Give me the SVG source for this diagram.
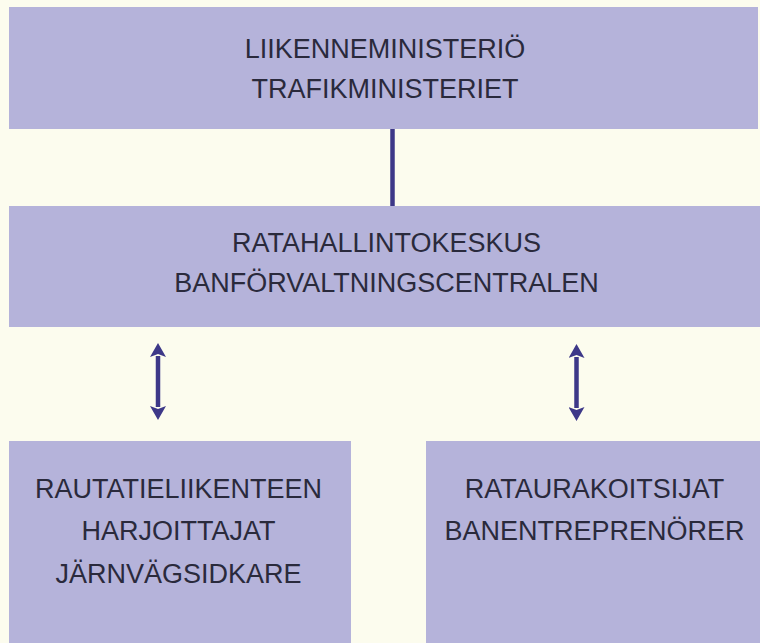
<svg xmlns="http://www.w3.org/2000/svg" width="760" height="643" viewBox="0 0 760 643">
  <style>
    .box { fill: #b5b3da; }
    .lbl { font-family: "Liberation Sans", Arial, sans-serif; font-size: 27px; fill: #2a2a3c; text-anchor: middle; }
    .conn { stroke: #3d3888; stroke-width: 4.5; fill: none; }
  </style>
  <defs>
    <marker id="head" viewBox="0 0 14 16" refX="1" refY="8" markerWidth="14" markerHeight="16" markerUnits="userSpaceOnUse" orient="auto-start-reverse">
      <path d="M0,0 L14,8 L0,16 L3,8 z" fill="#3d3888"/>
    </marker>
  </defs>
  <rect width="760" height="643" fill="#fcfcee"/>

  <g id="connectors">
    <line class="conn" x1="392.5" y1="128" x2="392.5" y2="207"/>
    <line class="conn" x1="158" y1="356" x2="158" y2="407" marker-start="url(#head)" marker-end="url(#head)"/>
    <line class="conn" x1="576.5" y1="357" x2="576.5" y2="408" marker-start="url(#head)" marker-end="url(#head)"/>
  </g>

  <g id="liikenneministerio">
    <rect class="box" x="9" y="7" width="749" height="122"/>
    <text class="lbl" x="385" y="58">LIIKENNEMINISTERIÖ</text>
    <text class="lbl" x="385" y="98">TRAFIKMINISTERIET</text>
  </g>

  <g id="ratahallintokeskus">
    <rect class="box" x="9" y="206" width="751" height="121"/>
    <text class="lbl" x="386.5" y="252">RATAHALLINTOKESKUS</text>
    <text class="lbl" x="386.5" y="292">BANFÖRVALTNINGSCENTRALEN</text>
  </g>

  <g id="rautatieliikenteen">
    <rect class="box" x="9" y="441" width="342" height="202"/>
    <text class="lbl" x="178.5" y="498">RAUTATIELIIKENTEEN</text>
    <text class="lbl" x="178.5" y="540">HARJOITTAJAT</text>
    <text class="lbl" x="178.5" y="583">JÄRNVÄGSIDKARE</text>
  </g>

  <g id="rataurakoitsijat">
    <rect class="box" x="426" y="441" width="334" height="202"/>
    <text class="lbl" x="594.5" y="498">RATAURAKOITSIJAT</text>
    <text class="lbl" x="594.5" y="540">BANENTREPRENÖRER</text>
  </g>
</svg>
